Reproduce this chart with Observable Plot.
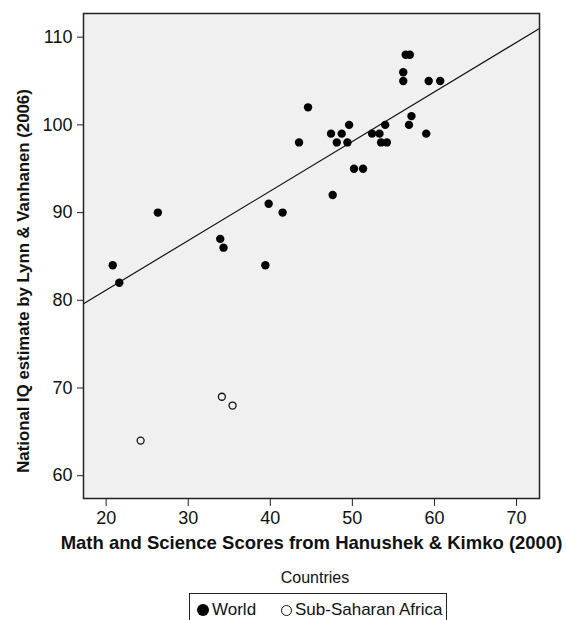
<!DOCTYPE html>
<html>
<head>
<meta charset="utf-8">
<script src="https://cdn.jsdelivr.net/npm/d3@7"></script>
<script src="https://cdn.jsdelivr.net/npm/@observablehq/plot@0.6"></script>
<style>
  body { margin: 0; background: #fff; font-family: "Liberation Sans", Arial, Helvetica, sans-serif; }
  #wrap { position: relative; width: 566px; height: 620px; overflow: hidden; }
  #legend-title { position: absolute; left: 0; width: 630px; top: 569px; text-align: center; font-size: 16px; color: #111; }
  #legend-box { position: absolute; left: 189px; top: 593px; width: 258px; height: 40px; border: 1.5px solid #222; box-sizing: border-box; }
  .item { position: absolute; top: 6px; font-size: 17px; color: #111; display: flex; align-items: center; white-space: nowrap; }
  .dot { display: inline-block; flex: 0 0 auto; width: 12px; height: 12px; border-radius: 50%; margin-right: 3px; box-sizing: border-box; }
</style>
</head>
<body>
<div id="wrap">
  <div id="chart"></div>
  <div id="legend-title"></div>
  <div id="legend-box"></div>
</div>
<script>
// World countries
const worldX = [20.8, 21.6, 26.3, 33.9, 34.3, 39.4, 39.8, 41.5, 43.5, 44.6, 47.4, 47.6, 48.1, 48.7, 49.4, 49.6, 50.2, 51.3, 52.4, 53.3, 53.5, 54.0, 54.2, 56.2, 56.2, 56.5, 57.0, 56.9, 57.2, 59.3, 59.0, 60.7];
const worldY = [84, 82, 90, 87, 86, 84, 91, 90, 98, 102, 99, 92, 98, 99, 98, 100, 95, 95, 99, 99, 98, 100, 98, 106, 105, 108, 108, 100, 101, 105, 99, 105];
// Sub-Saharan Africa
const ssaX = [24.2, 34.1, 35.4];
const ssaY = [64, 69, 68];
// Fit line
const fitX = [17.24, 72.8];
const fitY = [79.6, 111.0];
const xTicks = [20, 30, 40, 50, 60, 70];
const yTicks = [60, 70, 80, 90, 100, 110];
const xLabel = "Math and Science Scores from Hanushek & Kimko (2000)";
const yLabel = "National IQ estimate by Lynn & Vanhanen (2006)";
const legendTitle = "Countries";
const seriesNames = ["World", "Sub-Saharan Africa"];

const world = worldX.map((x, i) => ({x, y: worldY[i]}));
const ssa = ssaX.map((x, i) => ({x, y: ssaY[i]}));
const fit = fitX.map((x, i) => ({x, y: fitY[i]}));

const chart = Plot.plot({
  width: 566,
  height: 565,
  marginLeft: 83,
  marginRight: 27,
  marginTop: 13,
  marginBottom: 67,
  style: {fontFamily: '"Liberation Sans", Arial, Helvetica, sans-serif', color: "#111", background: "white"},
  x: {domain: [17.24, 72.8]},
  y: {domain: [57.4, 112.7]},
  marks: [
    Plot.frame({fill: "#f0f0f0", stroke: null}),
    Plot.axisX({ticks: xTicks, tickSize: 8, tickPadding: 5, fontSize: 18, label: null, stroke: "#222"}),
    Plot.axisY({ticks: yTicks, tickSize: 6, tickPadding: 5, fontSize: 18, label: null, stroke: "#222"}),
    Plot.line(fit, {x: "x", y: "y", stroke: "#111", strokeWidth: 1.2}),
    Plot.dot(world, {x: "x", y: "y", r: 4.2, fill: "#000", stroke: null}),
    Plot.dot(ssa, {x: "x", y: "y", r: 3.5, fill: "none", stroke: "#111", strokeWidth: 1.3}),
    Plot.frame({stroke: "#222", strokeWidth: 1.5}),
    Plot.text([xLabel], {text: d => d, frameAnchor: "bottom", dy: 50, fontSize: 18.5, fontWeight: "bold", fill: "#111"}),
    Plot.text([yLabel], {text: d => d, frameAnchor: "left", textAnchor: "middle", rotate: -90, dx: -60, dy: 25, fontSize: 16.8, fontWeight: "bold", fill: "#111"})
  ]
});
document.getElementById("chart").appendChild(chart);

document.getElementById("legend-title").textContent = legendTitle;
const box = document.getElementById("legend-box");
const lefts = [7, 91];
seriesNames.forEach((name, i) => {
  const it = document.createElement("div");
  it.className = "item";
  it.style.left = lefts[i] + "px";
  const dot = document.createElement("span");
  dot.className = "dot";
  if (i === 0) { dot.style.background = "#000"; }
  else { dot.style.border = "1.5px solid #111"; dot.style.width = "11px"; dot.style.height = "11px"; }
  it.appendChild(dot);
  const t = document.createElement("span");
  t.textContent = name;
  it.appendChild(t);
  box.appendChild(it);
});
</script>
</body>
</html>
